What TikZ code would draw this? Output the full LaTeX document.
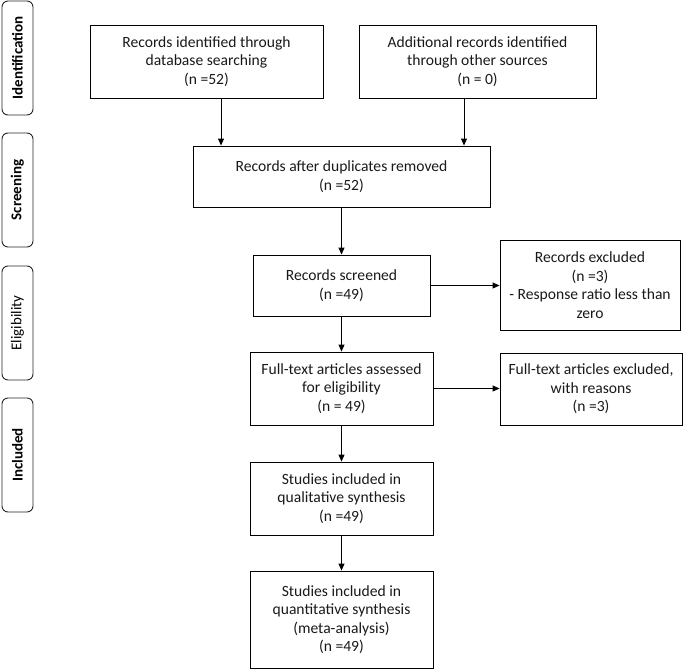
\documentclass[tikz,border=0pt]{standalone}
\usepackage{fontspec}
\setmainfont{Carlito}
\usetikzlibrary{arrows.meta}
\begin{document}
\begin{tikzpicture}[x=1pt,y=-1pt,
  box/.style={draw=black, line width=0.9pt, align=center, inner sep=2pt,
    font=\fontsize{15.6}{18.5}\selectfont, text=black!90},
  side/.style={draw=black!85, line width=0.9pt, rounded corners=6pt,
    minimum width=31pt, minimum height=114pt, inner sep=0pt},
  sidetext/.style={rotate=90, font=\fontsize{15}{17}\selectfont},
  arr/.style={line width=0.9pt, -{Triangle[length=7pt,width=6pt]}}]
\useasboundingbox (0,0) rectangle (683,669);

% side phase labels
\node[side] (s1) at (17.5,58) {};
\node[sidetext, font=\fontsize{15}{17}\selectfont\bfseries] (t1) at (s1.center) {Identification};
\node[side] (s2) at (17.5,190) {};
\node[sidetext, font=\fontsize{15}{17}\selectfont\bfseries] (t2) at (s2.center) {Screening};
\node[side] (s3) at (17.5,323) {};
\node[sidetext] (t3) at (s3.center) {Eligibility};
\node[side] (s4) at (17.5,455) {};
\node[sidetext, font=\fontsize{15}{17}\selectfont\bfseries] (t4) at (s4.center) {Included};

% boxes
\node[box, minimum width=233pt, minimum height=73pt] (b1) at (206.5,61.5)
  {Records identified through\\database searching\\(n =52)};
\node[box, minimum width=237pt, minimum height=73pt] (b2) at (477.5,61.5)
  {Additional records identified\\through other sources\\(n = 0)};
\node[box, minimum width=297pt, minimum height=61pt] (b3) at (341.5,176.5)
  {Records after duplicates removed\\(n =52)};
\node[box, minimum width=177pt, minimum height=61pt] (b4) at (341.5,285.5)
  {Records screened\\(n =49)};
\node[box, minimum width=180pt, minimum height=90pt] (b5) at (590,285)
  {Records excluded\\(n =3)\\- Response ratio less than\\zero};
\node[box, minimum width=183pt, minimum height=73pt] (b6) at (341.5,388.5)
  {Full-text articles assessed\\for eligibility\\(n = 49)};
\node[box, minimum width=182pt, minimum height=72pt] (b7) at (591,389)
  {Full-text articles excluded,\\with reasons\\(n =3)};
\node[box, minimum width=183pt, minimum height=73pt] (b8) at (341.5,498.5)
  {Studies included in\\qualitative synthesis\\(n =49)};
\node[box, minimum width=183pt, minimum height=97pt] (b9) at (341.5,619.5)
  {Studies included in\\quantitative synthesis\\(meta-analysis)\\(n =49)};

% connector guide coordinates
\coordinate (xa) at (221,0);
\coordinate (xb) at (464,0);

\draw[arr] (b1.south -| xa) -- (b3.north -| xa);
\draw[arr] (b2.south -| xb) -- (b3.north -| xb);
\draw[arr] (b3) -- (b4);
\draw[arr] (b4) -- (b6);
\draw[arr] (b6) -- (b8);
\draw[arr] (b8) -- (b9);
\draw[arr] (b4.east) -- (b5.west |- b4.east);
\draw[arr] (b6.east) -- (b7.west |- b6.east);
\end{tikzpicture}
\end{document}
